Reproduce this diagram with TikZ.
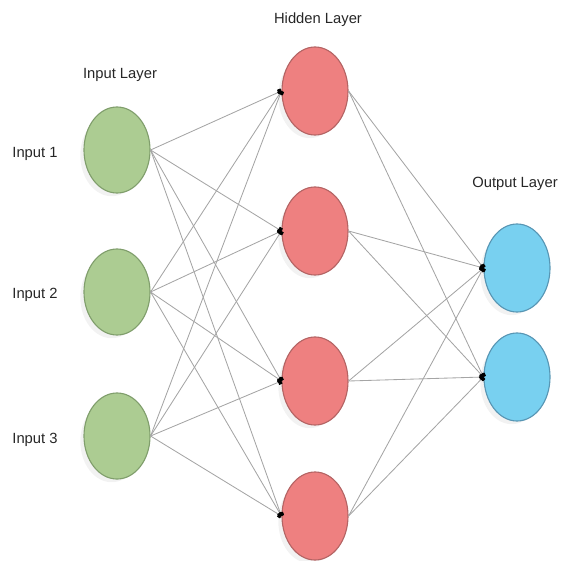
\documentclass[tikz,border=0pt]{standalone}
\usepackage{fontspec}
\setmainfont{Liberation Sans}
\usetikzlibrary{shapes.geometric,arrows.meta,shadows}

\definecolor{inFill}{RGB}{172,204,146}
\definecolor{inLine}{RGB}{128,158,108}
\definecolor{hidFill}{RGB}{238,128,128}
\definecolor{hidLine}{RGB}{180,100,100}
\definecolor{outFill}{RGB}{120,208,240}
\definecolor{outLine}{RGB}{88,150,180}
\definecolor{wire}{RGB}{165,165,165}

\tikzset{
  neuron/.style={ellipse, draw, line width=0.8pt, minimum width=1.65cm, minimum height=2.15cm,
    drop shadow={shadow xshift=-4pt, shadow yshift=-4pt, shadow scale=0.95, opacity=0.1, fill=gray}},
  inneuron/.style={neuron, fill=inFill, draw=inLine},
  hidneuron/.style={neuron, fill=hidFill, draw=hidLine, minimum height=2.2cm},
  outneuron/.style={neuron, fill=outFill, draw=outLine, minimum height=2.2cm},
  synapse/.style={draw=wire, line width=0.6pt, -{Square[length=2.5pt,width=4pt,black]}},
  layername/.style={font=\fontsize{10.5}{12}\selectfont, text=black!85},
}

\begin{document}
\begin{tikzpicture}[x=0.025cm, y=-0.025cm]
\useasboundingbox (0,0) rectangle (566,560);
\node[layername] (inTitle) at (120,75) {Input Layer};
\node[layername] (hidTitle) at (318,20) {Hidden Layer};
\node[layername] (outTitle) at (515,184) {Output Layer};
\node[layername] (inName1) at (35,154) {Input 1};
\node[layername] (inName2) at (35,295) {Input 2};
\node[layername] (inName3) at (35,440) {Input 3};
\node[inneuron] (in1) at (117,150) {};
\node[inneuron] (in2) at (117,292) {};
\node[inneuron] (in3) at (117,436) {};
\node[hidneuron] (hid1) at (315,91) {};
\node[hidneuron] (hid2) at (315,231) {};
\node[hidneuron] (hid3) at (315,381) {};
\node[hidneuron] (hid4) at (315,516) {};
\node[outneuron] (out1) at (517,268) {};
\node[outneuron] (out2) at (517,377) {};
\draw[synapse] (in1.east) -- (hid1.west);
\draw[synapse] (in1.east) -- (hid2.west);
\draw[synapse] (in1.east) -- (hid3.west);
\draw[synapse] (in1.east) -- (hid4.west);
\draw[synapse] (in2.east) -- (hid1.west);
\draw[synapse] (in2.east) -- (hid2.west);
\draw[synapse] (in2.east) -- (hid3.west);
\draw[synapse] (in2.east) -- (hid4.west);
\draw[synapse] (in3.east) -- (hid1.west);
\draw[synapse] (in3.east) -- (hid2.west);
\draw[synapse] (in3.east) -- (hid3.west);
\draw[synapse] (in3.east) -- (hid4.west);
\draw[synapse] (hid1.east) -- (out1.west);
\draw[synapse] (hid1.east) -- (out2.west);
\draw[synapse] (hid2.east) -- (out1.west);
\draw[synapse] (hid2.east) -- (out2.west);
\draw[synapse] (hid3.east) -- (out1.west);
\draw[synapse] (hid3.east) -- (out2.west);
\draw[synapse] (hid4.east) -- (out1.west);
\draw[synapse] (hid4.east) -- (out2.west);
\end{tikzpicture}
\end{document}
